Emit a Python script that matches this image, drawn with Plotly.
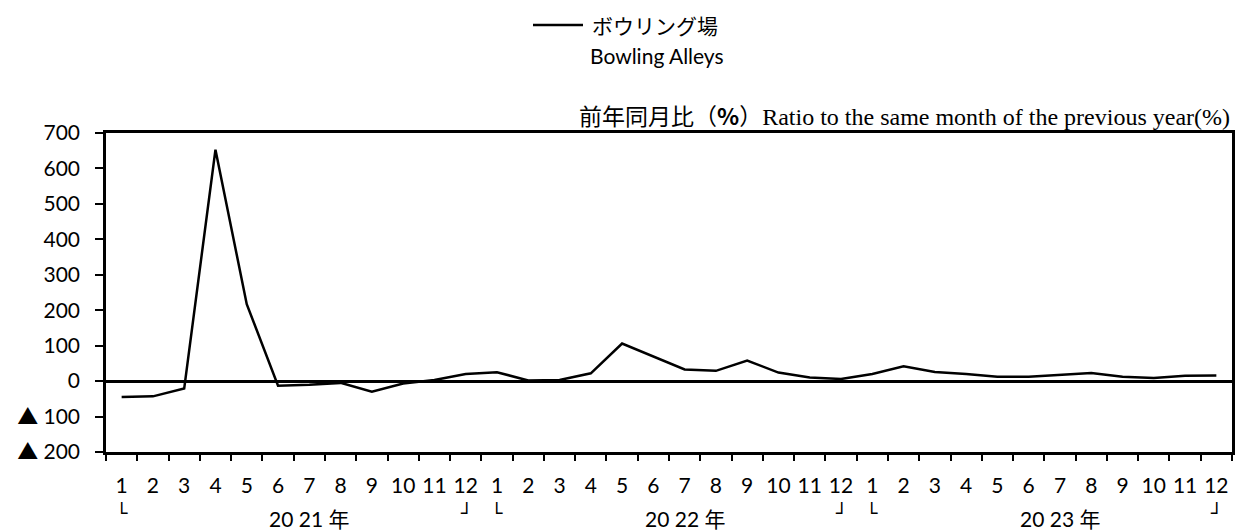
import plotly.graph_objects as go

months = [str(m) for m in range(1, 13)] * 3
years = ["20 21 年", "20 22 年", "20 23 年"]
values = [-45, -43, -21, 653, 217, -13, -10, -5, -30, -7, 3, 20,
          25, 2, 3, 22, 106, 69, 33, 29, 58, 24, 10, 6,
          20, 42, 26, 20, 12, 12, 18, 23, 12, 9, 15, 16]
y_tickvals = [700, 600, 500, 400, 300, 200, 100, 0, -100, -200]
y_ticktext = ["700", "600", "500", "400", "300", "200", "100", "0", "▲ 100", "▲ 200"]
series_name = "ボウリング場"
series_name_en = "Bowling Alleys"

W, H = 1236, 531
L, R, T, B = 106, 4, 133, 79
PW, PH = W - L - R, H - T - B

def px(x):
    return (x - L) / PW

def py(y):
    return (H - B - y) / PH

idx = list(range(len(values)))

fig = go.Figure()
fig.add_trace(go.Scatter(x=idx, y=values, mode="lines",
                         line=dict(color="black", width=2.5),
                         name=series_name, showlegend=False))

tickfont = dict(family="Lato, 'Noto Sans CJK JP', sans-serif", size=21, color="black")

fig.update_layout(
    width=W, height=H,
    margin=dict(l=L, r=R, t=T, b=B, autoexpand=False),
    paper_bgcolor="white", plot_bgcolor="white",
    xaxis=dict(range=[-0.5, len(values) - 0.5], tickmode="array", tickvals=idx,
               ticktext=months, ticks="", showgrid=False, zeroline=False,
               showline=True, linecolor="black", linewidth=2.5, mirror=True,
               tickfont=tickfont, ticklabelstandoff=13,
               minor=dict(tickmode="array", tickvals=[i - 0.5 for i in range(len(values) + 1)],
                          ticks="outside", ticklen=6, tickwidth=2, tickcolor="black",
                          showgrid=False)),
    yaxis=dict(range=[-200, 700], tickmode="array", tickvals=y_tickvals,
               ticktext=y_ticktext, ticks="outside", ticklen=8, tickwidth=2,
               tickcolor="black", showgrid=False, zeroline=True, zerolinecolor="black",
               zerolinewidth=2.5, showline=True, linecolor="black", linewidth=2.5,
               mirror=True, tickfont=tickfont, ticklabelstandoff=11),
)

# legend (line sample + labels)
fig.add_shape(type="line", xref="paper", yref="paper",
              x0=px(533), x1=px(583), y0=py(25), y1=py(25),
              line=dict(color="black", width=2.5))
fig.add_annotation(xref="paper", yref="paper", x=px(590), y=py(25),
                   xanchor="left", yanchor="middle", showarrow=False,
                   text=series_name,
                   font=dict(family="Noto Sans CJK JP", size=21, color="black"))
fig.add_annotation(xref="paper", yref="paper", x=px(588), y=py(55),
                   xanchor="left", yanchor="middle", showarrow=False,
                   text=series_name_en,
                   font=dict(family="Lato", size=21, color="black"))

# axis title
fig.add_annotation(xref="paper", yref="paper", x=1.0, y=py(115),
                   xanchor="right", yanchor="middle", showarrow=False,
                   text=("<span style='font-family:Noto Sans CJK JP;font-size:23px'>前年同月比（<b>%</b>）</span>"
                         "<span style='font-family:Liberation Serif;font-size:24px'>Ratio to the same month of the previous year(%)</span>"),
                   font=dict(family="Noto Sans CJK JP", size=23, color="black"))

# year labels and brackets
for k, yr in enumerate(years):
    fig.add_annotation(xref="x", yref="paper", x=12 * k + 6, y=py(518),
                       xanchor="center", yanchor="middle", showarrow=False,
                       text=yr, font=dict(family="Lato, 'Noto Sans CJK JP'", size=21, color="black"))
    fig.add_annotation(xref="x", yref="paper", x=12 * k, y=py(512),
                       xanchor="center", yanchor="middle", showarrow=False,
                       text="└", font=dict(family="DejaVu Sans", size=19, color="black"))
    fig.add_annotation(xref="x", yref="paper", x=12 * k + 11, y=py(512),
                       xanchor="center", yanchor="middle", showarrow=False,
                       text="┘", font=dict(family="DejaVu Sans", size=19, color="black"))

fig.write_html("out.html", config={"displayModeBar": False},
               post_script="document.body.style.margin='0';document.body.style.padding='0';")
